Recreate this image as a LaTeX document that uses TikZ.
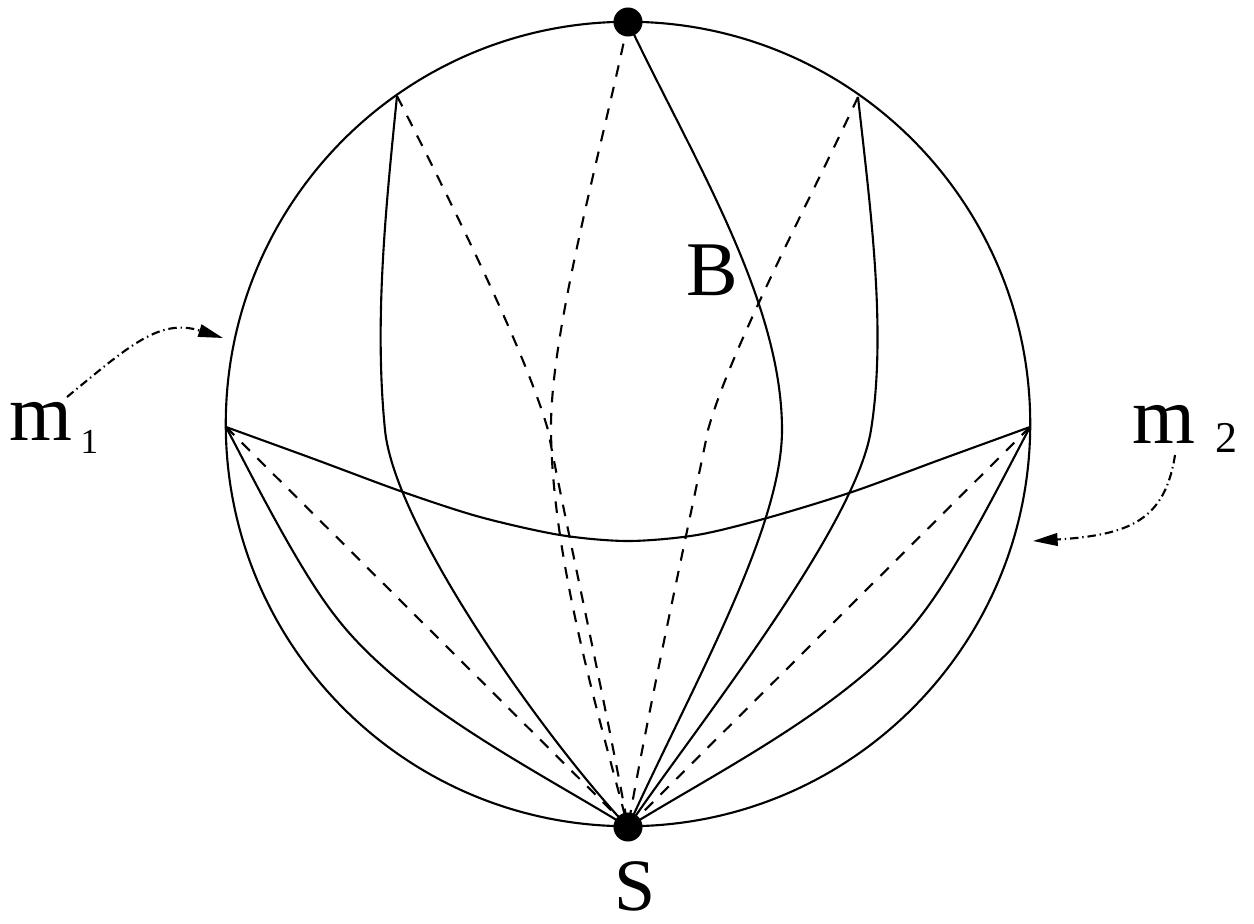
\documentclass[tikz,border=0pt]{standalone}
\usepackage{fontspec}
\setmainfont{Liberation Serif}
\usetikzlibrary{arrows.meta}

\begin{document}
\begin{tikzpicture}[x=0.01cm,y=-0.01cm,line join=round,
  curve/.style={line width=0.6pt},
  hidden/.style={line width=0.6pt,dash pattern=on 3.3pt off 3pt},
  pointer/.style={line width=0.6pt,dash pattern=on 2.4pt off 1.1pt on 0.4pt off 1.1pt,
    -{Triangle[length=7pt,width=3.6pt]}},
  lbl/.style={inner sep=0pt,anchor=base west}]
  \useasboundingbox (0,0) rectangle (1254,924);
  \coordinate (O) at (628,424);
  \coordinate (N) at (628,22);
  \coordinate (S) at (628,827);
  \coordinate (P1) at (397,96);
  \coordinate (P2) at (858,97);
  \coordinate (M1) at (226,427);
  \coordinate (M2) at (1030,427);
  \coordinate (A1s) at (67,397);
  \coordinate (A1e) at (223,338);
  \coordinate (A2s) at (1175,455);
  \coordinate (A2e) at (1033,541);
  % sphere
  \draw[curve] (O) circle[radius=4.02cm];
  % solid curves
  \draw[curve] (N) .. controls (692,157) and (782,300) .. (782,430)
    .. controls (782,530) and (690,690) .. (S);
  \draw[curve] (P1) .. controls (386,206) and (374,320) .. (385,430)
    .. controls (395,530) and (550,745) .. (S);
  \draw[curve] (P2) .. controls (870,206) and (887,330) .. (871,430)
    .. controls (855,530) and (690,735) .. (S);
  \draw[curve] (M1) .. controls (254,480) and (299,570) .. (336,617)
    .. controls (403,704) and (534,769) .. (S);
  \draw[curve] (M2) .. controls (1002,480) and (957,570) .. (920,617)
    .. controls (853,704) and (722,769) .. (S);
  \draw[curve] plot[smooth] coordinates {(M1) (314,459) (403,492) (480,517) (560,535) (628,541) (697,535) (767,518) (852,492) (942,459) (M2)};
  % dashed curves
  \draw[hidden] (N) .. controls (604,140) and (550,330) .. (551,430)
    .. controls (552,560) and (600,720) .. (S);
  \draw[hidden] (P1) .. controls (450,200) and (525,350) .. (548,430)
    .. controls (565,520) and (605,700) .. (S);
  \draw[hidden] (P2) .. controls (810,200) and (730,350) .. (708,430)
    .. controls (690,520) and (650,700) .. (S);
  \draw[hidden] (M1) -- (S);
  \draw[hidden] (M2) -- (S);
  % poles
  \fill (N) circle[radius=0.145cm];
  \fill (S) circle[radius=0.145cm];
  % labels
  \node[lbl,font=\fontsize{22}{22}\selectfont] (B) at (686,295) {B};
  \node[lbl,font=\fontsize{21}{21}\selectfont] (Sl) at (614,910) {S};
  \node[lbl,font=\fontsize{23}{23}\selectfont] (m1) at (9,440) {m\hspace{2.3pt}\raisebox{-3.7pt}{\fontsize{10}{10}\selectfont 1}};
  \node[lbl,font=\fontsize{23}{23}\selectfont] (m2) at (1132,443) {m\hspace{5.7pt}\raisebox{-2.6pt}{\fontsize{12.5}{12.5}\selectfont 2}};
  % pointers
  \draw[pointer] (A1s) .. controls (130,345) and (160,318) .. (A1e);
  \draw[pointer] (A2s) .. controls (1165,520) and (1130,535) .. (A2e);
\end{tikzpicture}
\end{document}
